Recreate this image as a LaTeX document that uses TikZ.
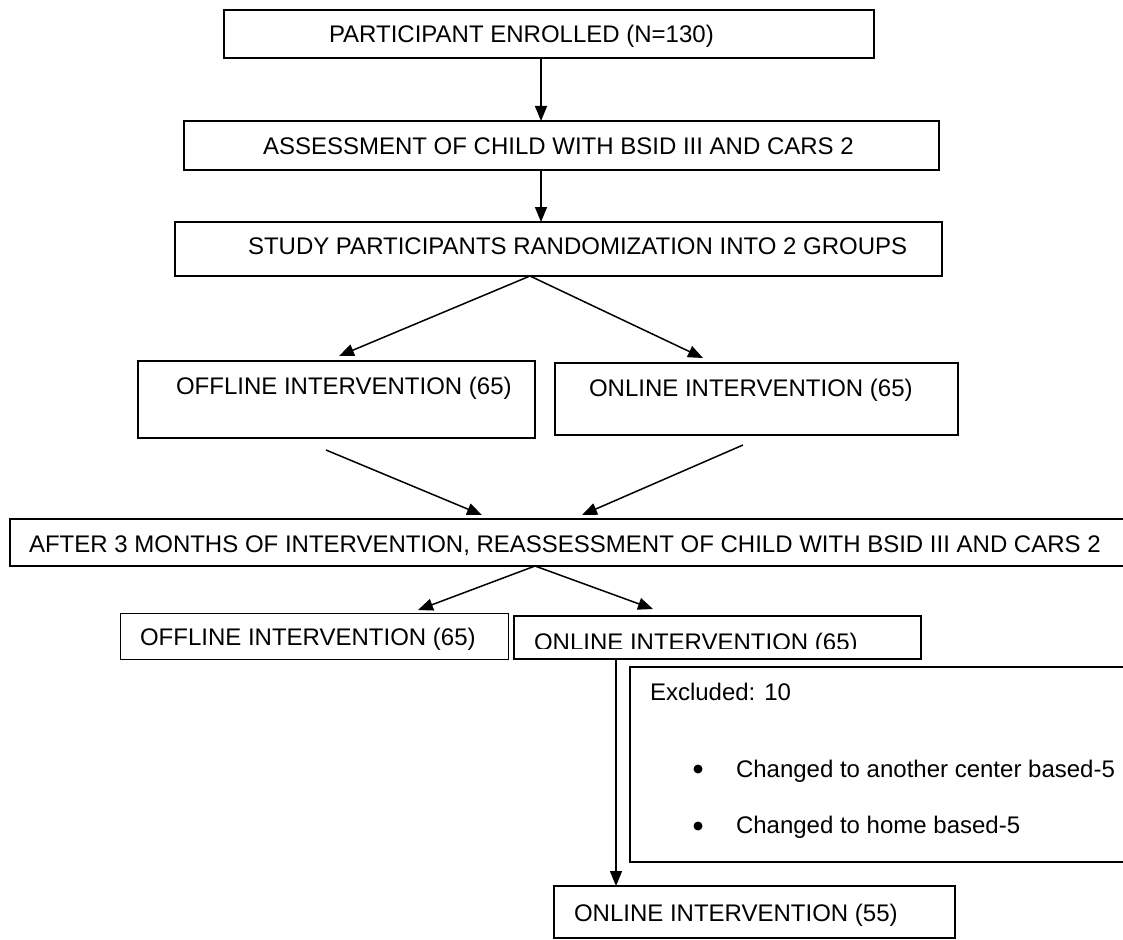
\documentclass[tikz,border=0pt]{standalone}
\usepackage{fontspec}
\setmainfont{Liberation Sans}
\usetikzlibrary{arrows.meta}
\begin{document}
\begin{tikzpicture}[x=1pt,y=-1pt,
  box/.style={draw=black,line width=1.5pt,inner sep=0pt,outer sep=0pt},
  thickbox/.style={box,line width=2.6pt},
  thinbox/.style={box,line width=1pt},
  lbl/.style={inner sep=0pt,outer sep=0pt,anchor=base west,font=\fontsize{24}{28}\selectfont},
  dot/.style={circle,fill=black,minimum size=9pt,inner sep=0pt},
  arr/.style={line width=1.5pt,-{Triangle[length=15pt,width=12pt]}},
  plain/.style={line width=1.5pt}]
\clip (0,0) rectangle (1123,939);
\fill[white] (0,0) rectangle (1123,939);
% boxes
\node[box,minimum width=650pt,minimum height=48pt] (b1) at (549,34) {};
\node[box,minimum width=755pt,minimum height=49pt] (b2) at (561.5,145.5) {};
\node[box,minimum width=767pt,minimum height=54pt] (b3) at (558.5,249) {};
\node[box,minimum width=397pt,minimum height=77pt] (b4) at (336.5,399.5) {};
\node[box,minimum width=403pt,minimum height=72pt] (b5) at (756.5,399) {};
\node[thickbox,minimum width=1125pt,minimum height=47pt] (b6) at (572.5,542.5) {};
\node[thinbox,minimum width=388pt,minimum height=46pt] (b7) at (314,636) {};
\node[thickbox,minimum width=407pt,minimum height=43pt] (b8) at (717.5,637.5) {};
\node[thickbox,minimum width=505pt,minimum height=195pt] (b9) at (882.5,764.5) {};
\node[box,minimum width=401pt,minimum height=52pt] (b10) at (754.5,912) {};
% texts
\node[lbl] (t1) at (329,43) {PARTICIPANT ENROLLED (N=130)};
\node[lbl] (t2) at (263,154) {ASSESSMENT OF CHILD WITH BSID III AND CARS 2};
\node[lbl] (t3) at (248,254) {STUDY PARTICIPANTS RANDOMIZATION INTO 2 GROUPS};
\node[lbl] (t4) at (176,394) {OFFLINE INTERVENTION (65)};
\node[lbl] (t5) at (589,396) {ONLINE INTERVENTION (65)};
\node[lbl] (t6) at (29,552) {AFTER 3 MONTHS OF INTERVENTION, REASSESSMENT OF CHILD WITH BSID III AND CARS 2};
\node[lbl] (t7) at (140,645) {OFFLINE INTERVENTION (65)};
\begin{scope}
\clip (b8.north west) rectangle (921,648);
\node[lbl] (t8) at (534,650) {ONLINE INTERVENTION (65)};
\end{scope}
\node[lbl] (t9) at (650,700) {Excluded: 10};
\node[dot] (u1) at (698,769) {};
\node[lbl] (t10) at (736,777) {Changed to another center based-5};
\node[dot] (u2) at (698,826) {};
\node[lbl] (t11) at (736,833) {Changed to home based-5};
\node[lbl] (t12) at (574,921) {ONLINE INTERVENTION (55)};
% connector ends
\coordinate (s34) at (530,276);
\coordinate (e3) at (339,356);
\coordinate (e4) at (703,358);
\coordinate (s5) at (326,450);
\coordinate (s6) at (743,445);
\coordinate (e5) at (482,515);
\coordinate (e6) at (582,515);
\coordinate (s78) at (535,566);
\coordinate (e7) at (418,610);
\coordinate (e8) at (653,609);
% connectors
\draw[arr] (b1.south -| 541,0) -- (b2.north -| 541,0);
\draw[arr] (b2.south -| 541,0) -- (b3.north -| 541,0);
\draw[arr] (s34) -- (e3);
\draw[arr] (s34) -- (e4);
\draw[arr] (s5) -- (e5);
\draw[arr] (s6) -- (e6);
\draw[arr] (s78) -- (e7);
\draw[arr] (s78) -- (e8);
\draw[arr] (b8.south -| 616,0) -- (b10.north -| 616,0);
\end{tikzpicture}
\end{document}
